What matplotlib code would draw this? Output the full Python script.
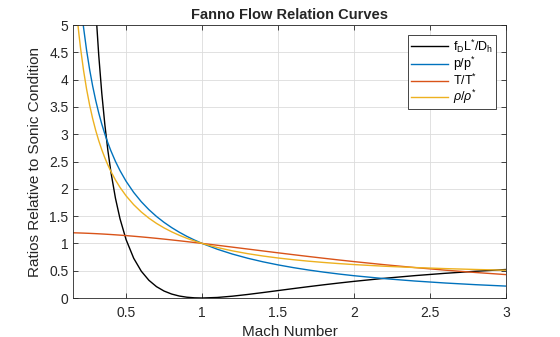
import numpy as np
import matplotlib
matplotlib.use("Agg")
import matplotlib.pyplot as plt

plt.rcParams["font.family"] = ["Liberation Sans", "DejaVu Sans"]
plt.rcParams["mathtext.fontset"] = "custom"
plt.rcParams["mathtext.rm"] = "Liberation Sans"
plt.rcParams["mathtext.it"] = "Liberation Sans:italic"

# Mach numbers and Fanno ratios (gamma = 1.4)
mach = [0.15, 0.16, 0.17, 0.18, 0.19, 0.20, 0.22, 0.24, 0.26, 0.28, 0.30,
        0.32, 0.34, 0.36, 0.38, 0.40, 0.43, 0.46, 0.50, 0.55, 0.60, 0.65,
        0.70, 0.75, 0.80, 0.85, 0.90, 0.95, 1.00, 1.10, 1.20, 1.30, 1.40,
        1.50, 1.60, 1.70, 1.80, 1.90, 2.00, 2.20, 2.40, 2.60, 2.80, 3.00]

friction = [27.932, 24.198, 21.115, 18.543, 16.375, 14.533, 11.596, 9.386,
            7.688, 6.357, 5.299, 4.447, 3.752, 3.180, 2.705, 2.3085, 1.8272,
            1.4509, 1.0691, 0.7281, 0.4908, 0.3246, 0.2081, 0.1273, 0.0723,
            0.0363, 0.0145, 0.0033, 0.0, 0.0099, 0.0336, 0.0648, 0.0997,
            0.1361, 0.1724, 0.2078, 0.2419, 0.2743, 0.3050, 0.3609, 0.4099,
            0.4526, 0.4898, 0.5222]

pressure = [7.2866, 6.8291, 6.4253, 6.0662, 5.7448, 5.4554, 4.9554, 4.5383,
            4.1851, 3.8820, 3.6191, 3.3887, 3.1853, 3.0042, 2.8420, 2.6958,
            2.5017, 2.3326, 2.1381, 1.9341, 1.7634, 1.6183, 1.4935, 1.3848,
            1.2893, 1.2047, 1.1291, 1.0613, 1.0, 0.8936, 0.8044, 0.7285,
            0.6632, 0.6065, 0.5568, 0.5130, 0.4741, 0.4394, 0.4082, 0.3549,
            0.3111, 0.2747, 0.2441, 0.2182]

temperature = [1.1946, 1.1939, 1.1931, 1.1923, 1.1914, 1.1905, 1.1885,
               1.1863, 1.1840, 1.1815, 1.1788, 1.1759, 1.1729, 1.1697,
               1.1663, 1.1628, 1.1572, 1.1513, 1.1429, 1.1315, 1.1194,
               1.1065, 1.0929, 1.0787, 1.0638, 1.0485, 1.0327, 1.0165, 1.0,
               0.9662, 0.9317, 0.8969, 0.8621, 0.8276, 0.7937, 0.7605,
               0.7282, 0.6969, 0.6667, 0.6098, 0.5576, 0.5102, 0.4673, 0.4286]

density = [6.0995, 5.7200, 5.3853, 5.0879, 4.8219, 4.5826, 4.1695, 3.8255,
           3.5347, 3.2857, 3.0702, 2.8818, 2.7158, 2.5684, 2.4367, 2.3184,
           2.1619, 2.0261, 1.8708, 1.7092, 1.5753, 1.4625, 1.3665, 1.2838,
           1.2119, 1.1489, 1.0934, 1.0440, 1.0, 0.9249, 0.8633, 0.8123,
           0.7693, 0.7328, 0.7016, 0.6745, 0.6511, 0.6305, 0.6124, 0.5821,
           0.5580, 0.5385, 0.5225, 0.5092]

labels = [r"$\mathrm{f_D L^{*}/D_h}$", r"$\mathrm{p/p^{*}}$",
          r"$\mathrm{T/T^{*}}$", r"$\rho/\rho^{*}$"]
colors = ["black", "#0072BD", "#D95319", "#EDB120"]

fig = plt.figure(figsize=(5.6, 3.37), dpi=100)
ax = fig.add_axes([0.131, 0.1157, 0.7726, 0.8101])

for y, lab, c in zip([friction, pressure, temperature, density], labels, colors):
    ax.plot(mach, y, color=c, linewidth=1.0, label=lab)

ax.set_xlim(0.153, 3)
ax.set_ylim(0, 5)
ax.set_xticks([0.5, 1, 1.5, 2, 2.5, 3])
ax.set_xticklabels(["0.5", "1", "1.5", "2", "2.5", "3"])
ax.set_yticks(np.arange(0, 5.01, 0.5))
ax.set_yticklabels(["0", "0.5", "1", "1.5", "2", "2.5", "3", "3.5", "4", "4.5", "5"])

ax.grid(True, color="#dcdcdc", linewidth=0.6)
ax.set_axisbelow(True)
ax.tick_params(direction="in", top=True, right=True, length=3.5, width=0.6,
               labelsize=10, colors="#262626")
ax.tick_params(axis="x", pad=6)
for s in ax.spines.values():
    s.set_linewidth(0.6)
    s.set_color("#262626")

ax.set_title("Fanno Flow Relation Curves", fontsize=10.5, fontweight="bold",
             color="#262626", pad=4)
ax.set_xlabel("Mach Number", fontsize=11, color="#262626", labelpad=3)
ax.set_ylabel("Ratios Relative to Sonic Condition", fontsize=11,
              color="#262626", labelpad=5)

leg = ax.legend(loc="upper right", fontsize=9, fancybox=False, framealpha=1,
                edgecolor="#262626", handlelength=3.0, borderaxespad=0.8,
                labelspacing=0.0, handletextpad=0.4, borderpad=0.2)
leg.get_frame().set_linewidth(0.6)

fig.savefig("out.png", dpi=100)
